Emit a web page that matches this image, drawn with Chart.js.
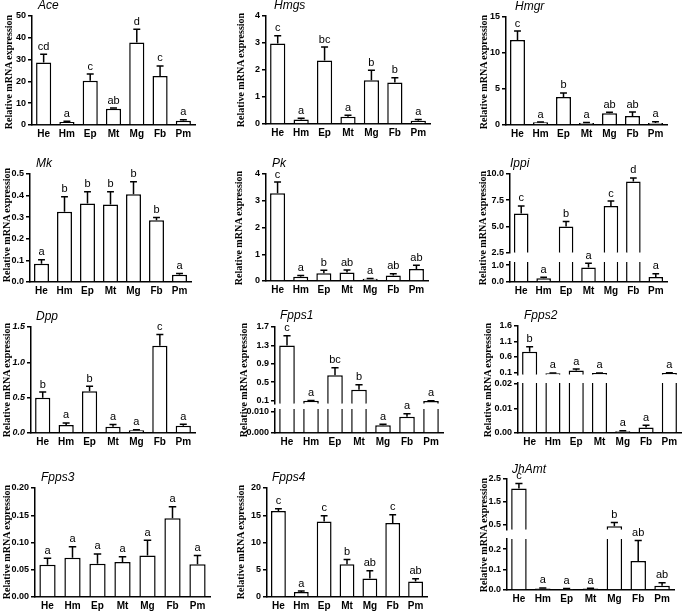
<!DOCTYPE html>
<html>
<head>
<meta charset="utf-8">
<script src="https://cdn.jsdelivr.net/npm/chart.js@4.4.1/dist/chart.umd.min.js"></script>
<style>
  body { margin: 0; background: #fff; }
  #fig { position: relative; width: 685px; height: 611px; overflow: hidden; }
  #fig canvas { position: absolute; }
  .ttl { position: absolute; font: italic 12px Arial, "Liberation Sans", sans-serif; color: #000; white-space: nowrap; }
  .ylab { position: absolute; font: bold 10px "Times New Roman", "Liberation Serif", serif; color: #000;
          white-space: nowrap; transform: translate(-50%, -50%) rotate(-90deg); }
</style>
</head>
<body>
<div id="fig"></div>
<script>
const tissues = ['He', 'Hm', 'Ep', 'Mt', 'Mg', 'Fb', 'Pm'];

const aceMean = [28.7, 1.4, 20.3, 7.5, 37.9, 22.5, 2.0];
const aceErr = [3.7, 0.3, 3.1, 0.3, 6.0, 4.6, 0.4];
const aceSig = ['cd', 'a', 'c', 'ab', 'd', 'c', 'a'];
const aceTicks = ['0', '10', '20', '30', '40', '50'];

const hmgsMean = [2.98, 0.17, 2.35, 0.27, 1.62, 1.54, 0.12];
const hmgsErr = [0.29, 0.04, 0.5, 0.05, 0.37, 0.17, 0.05];
const hmgsSig = ['c', 'a', 'bc', 'a', 'b', 'b', 'a'];
const hmgsTicks = ['0', '1', '2', '3', '4'];

const hmgrMean = [11.8, 0.37, 3.9, 0.28, 1.62, 1.25, 0.28];
const hmgrErr = [1.25, 0.05, 0.55, 0.05, 0.14, 0.55, 0.18];
const hmgrSig = ['c', 'a', 'b', 'a', 'ab', 'ab', 'a'];
const hmgrTicks = ['0', '5', '10', '15'];

const mkMean = [0.085, 0.325, 0.364, 0.359, 0.406, 0.286, 0.034];
const mkErr = [0.018, 0.07, 0.054, 0.059, 0.058, 0.013, 0.005];
const mkSig = ['a', 'b', 'b', 'b', 'b', 'b', 'a'];
const mkTicks = ['0.0', '0.1', '0.2', '0.3', '0.4', '0.5'];

const pkMean = [3.28, 0.16, 0.29, 0.32, 0.08, 0.21, 0.45];
const pkErr = [0.42, 0.05, 0.11, 0.09, 0.01, 0.06, 0.14];
const pkSig = ['c', 'a', 'b', 'ab', 'a', 'ab', 'ab'];
const pkTicks = ['0', '1', '2', '3', '4'];

const ippiMean = [6.23, 0.22, 5.0, 0.86, 6.95, 9.28, 0.3];
const ippiErr = [0.72, 0.06, 0.47, 0.24, 0.47, 0.35, 0.18];
const ippiSig = ['c', 'a', 'b', 'a', 'c', 'd', 'a'];
const ippiTicksHi = ['2.5', '5.0', '7.5', '10.0'];
const ippiTicksLo = ['0.0', '0.5', '1.0'];

const dppMean = [0.50, 0.113, 0.59, 0.09, 0.04, 1.235, 0.103];
const dppErr = [0.08, 0.03, 0.07, 0.03, 0.005, 0.16, 0.02];
const dppSig = ['b', 'a', 'b', 'a', 'a', 'c', 'a'];
const dppTicks = ['0.0', '0.5', '1.0', '1.5'];

const fpps1Mean = [1.295, 0.09, 0.65, 0.33, 0.0037, 0.0077, 0.088];
const fpps1Err = [0.215, 0.006, 0.16, 0.11, 0.0005, 0.0015, 0.004];
const fpps1Sig = ['c', 'a', 'bc', 'b', 'a', 'a', 'a'];
const fpps1TicksHi = ['0.1', '0.5', '0.9', '1.3', '1.7'];
const fpps1TicksLo = ['0.000', '0.005', '0.010'];

const fpps2Mean = [0.77, 0.075, 0.16, 0.08, 0.0007, 0.0022, 0.085];
const fpps2Err = [0.16, 0.01, 0.05, 0.005, 0.0002, 0.0009, 0.005];
const fpps2Sig = ['b', 'a', 'a', 'a', 'a', 'a', 'a'];
const fpps2TicksHi = ['0.1', '0.6', '1.1', '1.6'];
const fpps2TicksLo = ['0.00', '0.01', '0.02'];

const fpps3Mean = [0.059, 0.072, 0.061, 0.064, 0.076, 0.1445, 0.06];
const fpps3Err = [0.012, 0.02, 0.018, 0.01, 0.028, 0.021, 0.016];
const fpps3Sig = ['a', 'a', 'a', 'a', 'a', 'a', 'a'];
const fpps3Ticks = ['0.00', '0.05', '0.10', '0.15', '0.20'];

const fpps4Mean = [15.8, 0.9, 13.86, 6.0, 3.4, 13.6, 2.86];
const fpps4Err = [0.4, 0.2, 1.03, 0.9, 1.4, 1.5, 0.5];
const fpps4Sig = ['c', 'a', 'c', 'b', 'ab', 'c', 'ab'];
const fpps4Ticks = ['0', '5', '10', '15', '20'];

const jhamtMean = [2.09, 0.007, 0.005, 0.007, 0.44, 0.142, 0.021];
const jhamtErr = [0.21, 0.003, 0.002, 0.002, 0.16, 0.1, 0.015];
const jhamtSig = ['c', 'a', 'a', 'a', 'b', 'ab', 'ab'];
const jhamtTicksHi = ['0.5', '1.0', '1.5', '2.0', '2.5'];
const jhamtTicksLo = ['0.0', '0.1', '0.2'];

// where each panel sits in the figure (plot area in page pixels)
const panels = [
  { name: 'Ace', mean: aceMean, err: aceErr, sig: aceSig, x0: 32, x1: 195, title: [38, -2], ylab: [8, 72],
    segs: [{ top: 16, bottom: 125, min: 0, max: 50, ticks: aceTicks }] },
  { name: 'Hmgs', mean: hmgsMean, err: hmgsErr, sig: hmgsSig, x0: 266, x1: 430, title: [274, -2], ylab: [240, 70],
    segs: [{ top: 16, bottom: 124, min: 0, max: 4, ticks: hmgsTicks }] },
  { name: 'Hmgr', mean: hmgrMean, err: hmgrErr, sig: hmgrSig, x0: 506, x1: 667, title: [515, -1], ylab: [483, 72],
    segs: [{ top: 17, bottom: 125, min: 0, max: 15, ticks: hmgrTicks }] },
  { name: 'Mk', mean: mkMean, err: mkErr, sig: mkSig, x0: 30, x1: 191, title: [36, 156], ylab: [6, 225],
    segs: [{ top: 174, bottom: 282, min: 0, max: 0.5, ticks: mkTicks }] },
  { name: 'Pk', mean: pkMean, err: pkErr, sig: pkSig, x0: 266, x1: 428, title: [272, 156], ylab: [238, 228],
    segs: [{ top: 174, bottom: 281, min: 0, max: 4, ticks: pkTicks }] },
  { name: 'Ippi', mean: ippiMean, err: ippiErr, sig: ippiSig, x0: 510, x1: 667, title: [510, 156], ylab: [482, 228],
    segs: [{ top: 174, bottom: 254, min: 2.5, max: 10, ticks: ippiTicksHi },
           { top: 262, bottom: 282, min: 0, max: 1.18, ticks: ippiTicksLo }] },
  { name: 'Dpp', mean: dppMean, err: dppErr, sig: dppSig, x0: 31, x1: 195, title: [36, 309], ylab: [6, 380], italicTicks: true,
    segs: [{ top: 327, bottom: 433, min: 0, max: 1.5, ticks: dppTicks }] },
  { name: 'Fpps1', mean: fpps1Mean, err: fpps1Err, sig: fpps1Sig, x0: 275, x1: 443, title: [280, 308], ylab: [243, 380],
    segs: [{ top: 327, bottom: 405, min: 0.03, max: 1.7, ticks: fpps1TicksHi },
           { top: 409, bottom: 433, min: 0, max: 0.0114, ticks: fpps1TicksLo }] },
  { name: 'Fpps2', mean: fpps2Mean, err: fpps2Err, sig: fpps2Sig, x0: 518, x1: 681, title: [524, 308], ylab: [487, 380],
    segs: [{ top: 326, bottom: 376, min: 0.03, max: 1.6, ticks: fpps2TicksHi },
           { top: 383, bottom: 433, min: 0, max: 0.0203, ticks: fpps2TicksLo }] },
  { name: 'Fpps3', mean: fpps3Mean, err: fpps3Err, sig: fpps3Sig, x0: 35, x1: 210, title: [41, 470], ylab: [6, 542],
    segs: [{ top: 488, bottom: 597, min: 0, max: 0.2, ticks: fpps3Ticks }] },
  { name: 'Fpps4', mean: fpps4Mean, err: fpps4Err, sig: fpps4Sig, x0: 267, x1: 427, title: [272, 470], ylab: [240, 542],
    segs: [{ top: 488, bottom: 597, min: 0, max: 20, ticks: fpps4Ticks }] },
  { name: 'JhAmt', mean: jhamtMean, err: jhamtErr, sig: jhamtSig, x0: 507, x1: 674, title: [512, 462], ylab: [483, 535],
    segs: [{ top: 479, bottom: 531, min: 0.29, max: 2.5, ticks: jhamtTicksHi },
           { top: 539, bottom: 590, min: 0, max: 0.249, ticks: jhamtTicksLo }] }
];

const FONT = 'Arial, "Liberation Sans", sans-serif';
const fig = document.getElementById('fig');

// error bars (upper half only) and the significance letters
function barMarks(p, lowest) {
  return {
    id: 'barMarks',
    afterDatasetsDraw(chart) {
      const y = chart.scales.y;
      const meta = chart.getDatasetMeta(0);
      const ctx = chart.ctx;
      ctx.save();
      ctx.strokeStyle = '#000';
      ctx.fillStyle = '#000';
      ctx.lineWidth = 1.5;
      ctx.font = '11px ' + FONT;
      ctx.textAlign = 'center';
      ctx.textBaseline = 'bottom';
      p.mean.forEach((v, i) => {
        if (v > y.max || (!lowest && v <= y.min)) return;
        const el = meta.data[i];
        const top = y.getPixelForValue(v + p.err[i]);
        const cap = el.width * 0.23;
        ctx.beginPath();
        ctx.moveTo(el.x, el.y);
        ctx.lineTo(el.x, top);
        ctx.moveTo(el.x - cap, top);
        ctx.lineTo(el.x + cap, top);
        ctx.stroke();
        ctx.fillText(p.sig[i], el.x, top - 2);
      });
      ctx.restore();
    }
  };
}

function drawSegment(p, seg, lowest) {
  const yW = 34, xH = 18, padT = 14, padR = 10;
  const padB = lowest ? 0 : 6;
  const cv = document.createElement('canvas');
  cv.width = yW + (p.x1 - p.x0) + padR;
  cv.height = padT + (seg.bottom - seg.top) + (lowest ? xH : padB);
  cv.style.left = (p.x0 - yW) + 'px';
  cv.style.top = (seg.top - padT) + 'px';
  fig.appendChild(cv);

  const values = lowest ? p.mean : p.mean.map(v => (v > seg.min ? v : null));

  new Chart(cv, {
    type: 'bar',
    data: {
      labels: tissues,
      datasets: [{
        data: values,
        backgroundColor: '#fff',
        borderColor: '#000',
        borderWidth: 1.5,
        borderSkipped: 'start',
        barPercentage: 0.65,
        categoryPercentage: 1,
        clip: { left: 5, right: 5, top: 0, bottom: 0 }
      }]
    },
    options: {
      responsive: false,
      animation: false,
      events: [],
      layout: { padding: { top: padT, right: padR, bottom: padB, left: 0 } },
      plugins: { legend: { display: false }, tooltip: { enabled: false } },
      scales: {
        x: {
          display: lowest,
          offset: true,
          grid: { display: false, drawTicks: false },
          border: { color: '#000', width: 1.5 },
          ticks: { color: '#000', padding: 3, maxRotation: 0, autoSkip: false,
                   font: { family: FONT, weight: 'bold', size: 10 } },
          afterFit: s => { if (lowest) s.height = xH; }
        },
        y: {
          min: seg.min,
          max: seg.max,
          grid: { drawOnChartArea: false, drawTicks: true, tickLength: 4, color: '#000', lineWidth: 1.5 },
          border: { color: '#000', width: 1.5 },
          ticks: {
            color: '#000', padding: 2,
            font: { family: FONT, weight: 'bold', size: 9, style: p.italicTicks ? 'italic' : 'normal' },
            callback: (v, i) => seg.ticks[i]
          },
          afterBuildTicks: s => { s.ticks = seg.ticks.map(t => ({ value: parseFloat(t) })); },
          afterFit: s => { s.width = yW; }
        }
      }
    },
    plugins: [barMarks(p, lowest)]
  });
}

function addText(cls, text, pos) {
  const d = document.createElement('div');
  d.className = cls;
  d.textContent = text;
  d.style.left = pos[0] + 'px';
  d.style.top = pos[1] + 'px';
  fig.appendChild(d);
}

panels.forEach(p => {
  p.segs.forEach((seg, k) => drawSegment(p, seg, k === p.segs.length - 1));
  addText('ttl', p.name, p.title);
  addText('ylab', 'Relative mRNA expression', p.ylab);
});
</script>
</body>
</html>
